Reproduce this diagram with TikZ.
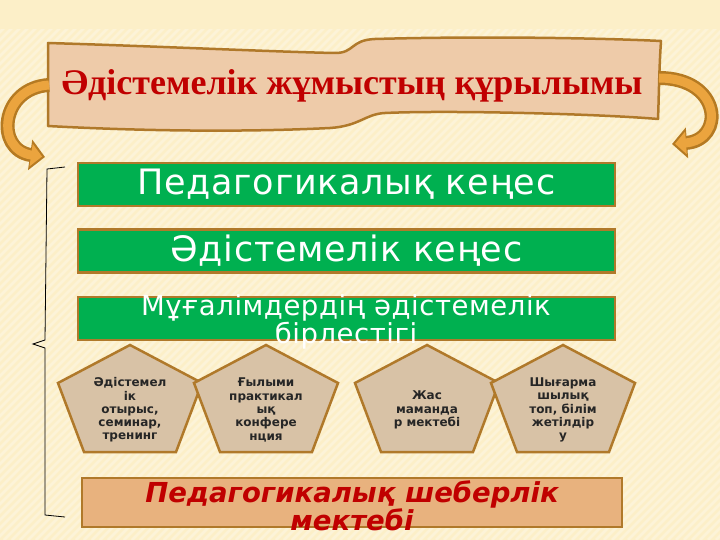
\documentclass[tikz,border=0pt]{standalone}
\usepackage{fontspec}
\setmainfont{Liberation Serif}
\newfontfamily\dvs{DejaVu Sans}
\newfontfamily\dvsw[LetterSpace=2]{DejaVu Sans}
\usetikzlibrary{arrows.meta}
\definecolor{bg}{HTML}{FCEFC8}
\definecolor{brd}{HTML}{B0792A}
\definecolor{grn}{HTML}{00B050}
\definecolor{ban}{HTML}{EECBA9}
\definecolor{ttl}{HTML}{C00000}
\definecolor{pentc}{HTML}{D8C2A6}
\definecolor{tanc}{HTML}{E8B27E}
\definecolor{arror}{HTML}{EBA43E}
\definecolor{arrbr}{HTML}{B57A22}
\newcommand\mypent[3]{%
  \draw[pentst] (#2,345) -- (#2+72,383) -- (#2+46,452) -- (#2-46,452) -- (#2-72,383) -- cycle;
  \node[ptext] (#1) at (#2,410) {#3};}
\begin{document}
\begin{tikzpicture}[x=1pt,y=-1pt,
  gbox/.style={draw=brd, line width=2.5pt, fill=grn, minimum width=537pt, minimum height=43pt, inner sep=0pt},
  gtext/.style={text=white, font=\dvsw\fontsize{35}{35}\selectfont},
  pentst/.style={draw=brd, line width=2.5pt, fill=pentc, line join=miter},
  ptext/.style={align=center, text=black!85, inner sep=0pt, font=\dvs\bfseries\fontsize{12}{13.3}\selectfont},
  arrout/.style={arrbr, line width=14pt, -{Triangle[length=15pt,width=30pt]}},
  arrin/.style={arror, line width=9pt, shorten >=3pt, -{Triangle[length=11pt,width=22pt]}}]
\useasboundingbox (0,0) rectangle (720,540);
\fill[bg] (0,0) rectangle (720,540);
\begin{scope}
  \clip (0,30) rectangle (720,540);
  \foreach \i in {0,8,...,1280} \draw[white, opacity=0.3, line width=2.5pt] (\i-540,540) -- (\i,0);
\end{scope}
% banner
\draw[draw=brd, line width=2.5pt, fill=ban, line join=round]
  (48,43) .. controls (150,46) and (280,52) .. (335,53)
  .. controls (355,53) and (350,40) .. (375,39)
  .. controls (480,36) and (600,38) .. (661,41)
  .. controls (659,70) and (659,95) .. (658,119)
  .. controls (600,114) and (450,110) .. (385,113)
  .. controls (365,114) and (360,126) .. (330,128)
  .. controls (230,133) and (120,130) .. (48,126) -- cycle;
\node[anchor=base, inner sep=0pt, text=ttl, font=\bfseries\fontsize{36}{36}\selectfont] (title) at (352,95) {Әдістемелік жұмыстың құрылымы};
% arrows
\coordinate (la) at (49,85);
\coordinate (lb) at (45,157);
\coordinate (ra) at (659,78);
\coordinate (rb) at (672,144);
\draw[arrout] (la) .. controls (0,88) and (-5,150) .. (lb);
\draw[arrin] (la) .. controls (0,88) and (-5,150) .. (lb);
\draw[arrout] (ra) .. controls (722,78) and (725,140) .. (rb);
\draw[arrin] (ra) .. controls (722,78) and (725,140) .. (rb);
% green boxes
\node[gbox, gtext] (b1) at (346.5,184.5) {Педагогикалық кеңес};
\node[gbox, gtext] (b2) at (346.5,251) {Әдістемелік кеңес};
\node[gbox] (b3) at (346.5,318.5) {};
\node[text=white, align=center, inner sep=0pt, font=\dvsw\fontsize{27.5}{24}\selectfont] (t3) at (346,322) {Мұғалімдердің әдістемелік\\бірлестігі};
% pentagons
\mypent{p1}{130}{Әдістемел\\ік\\отырыс,\\семинар,\\тренинг}
\mypent{p2}{266}{Ғылыми\\практикал\\ық\\конфере\\нция}
\mypent{p3}{427}{Жас\\маманда\\р мектебі}
\mypent{p4}{563}{Шығарма\\шылық\\топ, білім\\жетілдір\\у}
% bottom box
\node[draw=brd, line width=2.5pt, fill=tanc, minimum width=540pt, minimum height=49pt, inner sep=0pt] (b4) at (352,502.5) {};
\node[text=ttl, align=center, inner sep=0pt, font=\dvs\bfseries\itshape\fontsize{27.5}{28}\selectfont] (t4) at (352,506) {Педагогикалық шеберлік\\мектебі};
% bracket
\draw[black, line width=0.8pt] (65,167) -- (47,169) -- (45,340) -- (33,344) -- (45,348) -- (45,515) -- (65,517);
\end{tikzpicture}
\end{document}
